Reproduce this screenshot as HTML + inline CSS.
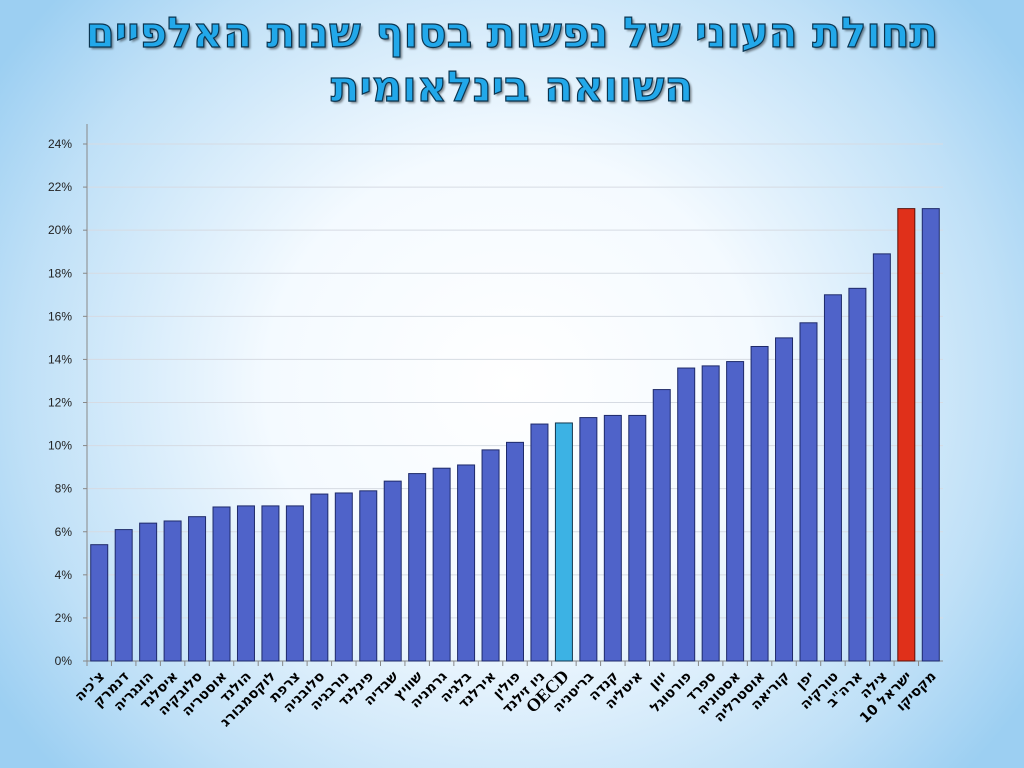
<!DOCTYPE html>
<html><head><meta charset="utf-8"><style>
html,body{margin:0;padding:0;width:1024px;height:768px;overflow:hidden}
body{background:radial-gradient(ellipse 60% 75% at 50% 50%,#ffffff 0%,#f4faff 40%,#bfe0f7 80%,#9ccff2 100%);font-family:"Liberation Sans","DejaVu Sans",sans-serif}
#title{position:absolute;left:0;top:6px;width:1024px;text-align:center;direction:rtl;font-family:"DejaVu Sans","Liberation Sans",sans-serif;font-weight:bold;font-size:42px;line-height:54px;color:#22a8ea;-webkit-text-stroke:1.2px #0b3550;text-shadow:2px 2px 2px rgba(0,0,0,.45)}
</style></head><body>
<div id="title">תחולת העוני של נפשות בסוף שנות האלפיים<br>השוואה בינלאומית</div>
<svg id="chart" width="1024" height="768" style="position:absolute;left:0;top:0"></svg>
<script>
const categories=["צ'כיה","דנמרק","הונגריה","איסלנד","סלובקיה","אוסטריה","הולנד","לוקסמבורג","צרפת","סלובניה","נורבגיה","פינלנד","שבדיה","שוויץ","גרמניה","בלגיה","אירלנד","פולין","ניו זילנד","OECD","בריטניה","קנדה","איטליה","יוון","פורטוגל","ספרד","אסטוניה","אוסטרליה","קוריאה","יפן","טורקיה","ארה\"ב","צילה","ישראל 10","מקסיקו"];
const values=[5.4,6.1,6.4,6.5,6.7,7.15,7.2,7.2,7.2,7.75,7.8,7.9,8.35,8.7,8.95,9.1,9.8,10.15,11,11.05,11.3,11.4,11.4,12.6,13.6,13.7,13.9,14.6,15,15.7,17,17.3,18.9,21,21];
const yTicks=[0,2,4,6,8,10,12,14,16,18,20,22,24];
const NS="http://www.w3.org/2000/svg";
const svg=document.getElementById('chart');
const x0=87,x1=943,y0=661,yTop=144,ymax=24;
const step=(x1-x0)/categories.length, bw=17;
const yS=v=>y0-(v/ymax)*(y0-yTop);
const xS=i=>x0+step*(i+0.5);
function mk(t,a){const e=document.createElementNS(NS,t);for(const k in a)e.setAttribute(k,a[k]);svg.appendChild(e);return e;}
yTicks.forEach(t=>{
  const g=mk('line',{x1:x0,x2:x1,y1:yS(t),y2:yS(t),stroke:'#d6dbe3','stroke-width':1});
  
  
  const tl=mk('line',{x1:x0-4,x2:x0,y1:yS(t),y2:yS(t),stroke:'#888'});
  
  
  const tx=mk('text',{x:x0-15,y:yS(t)+4,'text-anchor':'end','font-size':12,fill:'#222'});
  tx.textContent=t+'%';
  
  
});
const ax=mk('line',{x1:x0,x2:x0,y1:124,y2:y0,stroke:'#888'});


const xa=mk('line',{x1:x0,x2:x1,y1:y0,y2:y0,stroke:'#888'});


categories.forEach((c,i)=>{
  let fill='#4f63c9',stroke='#1e2a6a';
  if(c==='OECD'){fill='#3cb2e4';stroke='#12384f';}
  if(c==='ישראל 10'){fill='#e0301a';stroke='#5a1008';}
  const r=mk('rect',{x:xS(i)-bw/2,y:yS(values[i]),width:bw,height:y0-yS(values[i]),fill:fill,stroke:stroke,'stroke-width':1});
  
  
  const tk=mk('line',{x1:x0+step*i,x2:x0+step*i,y1:y0,y2:y0+5,stroke:'#888'});
  
  
  const cx=xS(i)+6, cy=y0+16;
  const t=mk('text',{x:cx,y:cy,'text-anchor':'start',direction:'rtl','font-size':c==='OECD'?18:14,'font-weight':'bold',fill:'#000',transform:`rotate(-45 ${cx} ${cy})`,'font-family':c==='OECD'?'"Liberation Serif",serif':'"DejaVu Sans","Liberation Sans",sans-serif'});
  t.textContent=c;
  
  
});
</script>
</body></html>
